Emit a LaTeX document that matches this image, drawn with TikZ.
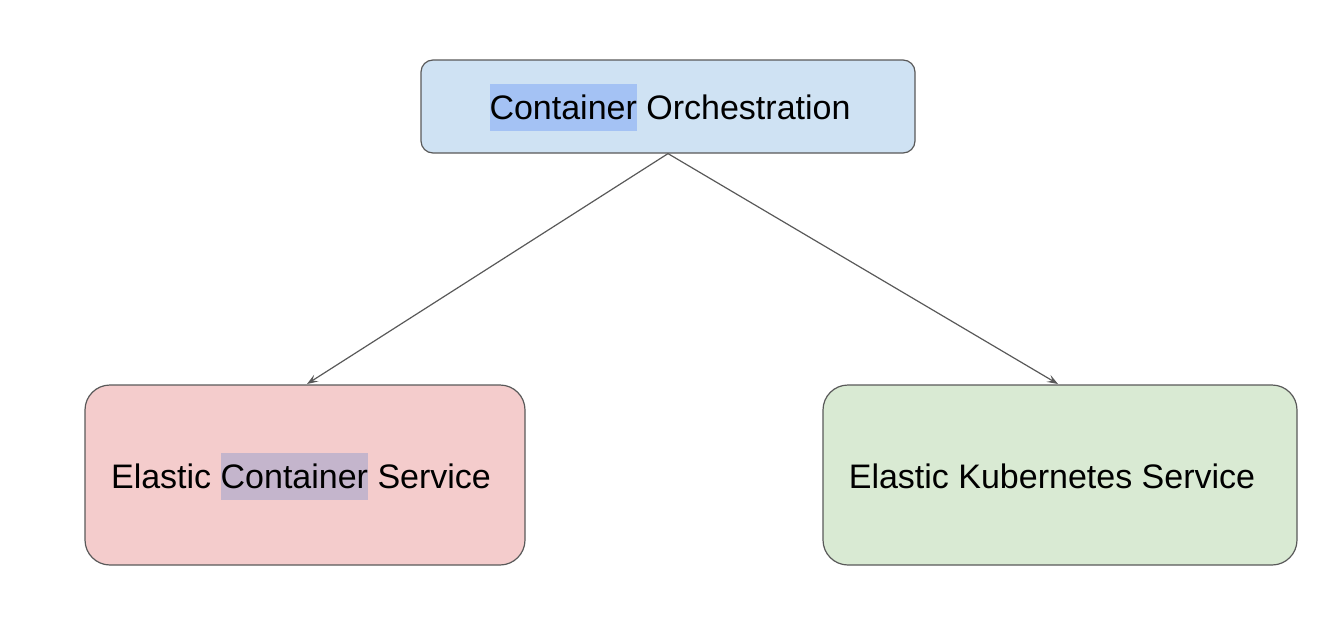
\documentclass[tikz,border=0pt]{standalone}
\usepackage{fontspec}
\setmainfont{Liberation Sans}
\usetikzlibrary{arrows.meta}
\definecolor{topfill}{HTML}{CFE2F3}
\definecolor{leftfill}{HTML}{F4CCCC}
\definecolor{rightfill}{HTML}{D9EAD3}
\definecolor{hltop}{HTML}{A4C2F4}
\definecolor{hlleft}{HTML}{C4B5CC}
\definecolor{edge}{HTML}{595959}
\newcommand\myhl[2]{\begingroup\setlength{\fboxsep}{0pt}\colorbox{#1}{\rule[-12pt]{0pt}{47pt}#2}\endgroup}
\begin{document}
\begin{tikzpicture}[x=1pt,y=-1pt,
  boxstyle/.style={draw=edge,line width=1.2pt,inner sep=0pt},
  conn/.style={draw=edge,line width=1.2pt,-{Stealth[length=11pt,width=8pt,inset=4.5pt]}}]
\useasboundingbox (0,0) rectangle (1338,616);
\node[boxstyle,fill=topfill,rounded corners=12pt,minimum width=494pt,minimum height=93pt] (top) at (668,106.5) {};
\node[boxstyle,fill=leftfill,rounded corners=25pt,minimum width=440pt,minimum height=180pt] (left) at (305,475) {};
\node[boxstyle,fill=rightfill,rounded corners=25pt,minimum width=474pt,minimum height=180pt] (right) at (1060,475) {};
\node[font=\fontsize{34}{40}\selectfont,inner sep=0pt,anchor=base] (toptext) at (670,119) {\myhl{hltop}{Container} Orchestration};
\node[font=\fontsize{34}{40}\selectfont,inner sep=0pt,anchor=base] (lefttext) at (301,488) {Elastic \myhl{hlleft}{Container} Service};
\node[font=\fontsize{34}{40}\selectfont,inner sep=0pt,anchor=base] (righttext) at (1052,488) {Elastic Kubernetes Service};
\coordinate (ltip) at (307,384);
\coordinate (rtip) at (1058,384);
\draw[conn] (top.south) -- (ltip);
\draw[conn] (top.south) -- (rtip);
\end{tikzpicture}
\end{document}
